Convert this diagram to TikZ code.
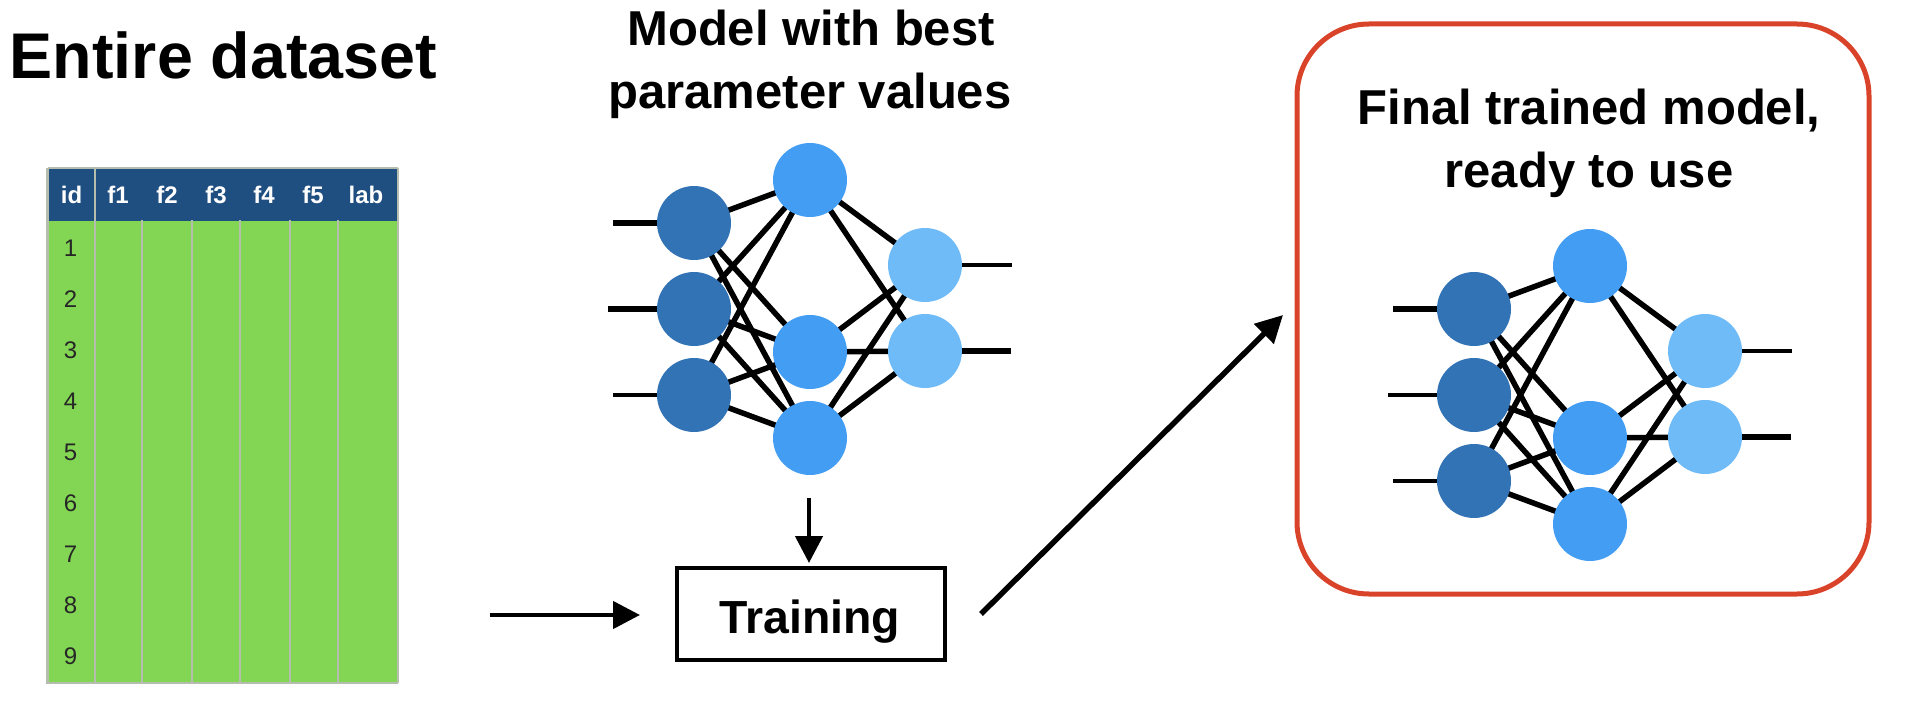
\documentclass[tikz,border=0pt]{standalone}
\usepackage{fontspec}
\setmainfont{Liberation Sans}
\usetikzlibrary{arrows.meta,backgrounds}
\definecolor{hdr}{HTML}{1F4E80}
\definecolor{grn}{HTML}{82D653}
\definecolor{gln}{HTML}{B4BDAE}
\definecolor{nA}{HTML}{3273B5}
\definecolor{nB}{HTML}{439DF3}
\definecolor{nC}{HTML}{6FBBF8}
\definecolor{redb}{HTML}{D8432A}
\tikzset{
  x=1pt,y=-1pt,
  neuron/.style={circle,minimum size=74pt,inner sep=0pt,fill=#1},
  edge/.style={line width=5.5pt,black},
  stub/.style={black,line width=#1},
  title/.style={font=\fontsize{49}{49}\selectfont\bfseries,anchor=center,inner sep=0pt},
  hdrtxt/.style={font=\fontsize{24}{24}\selectfont\bfseries,text=white,inner sep=0pt},
  rowtxt/.style={font=\fontsize{24}{24}\selectfont,text=black!85,inner sep=0pt},
  arrow/.style={line width=#1,-{Triangle[length=27pt,width=27pt]}},
}
\newcommand{\mynet}[4]{%
  \begin{scope}[shift={(#1,#2)}]
    \node[neuron=nA] (#3i1) at (694,223) {};
    \node[neuron=nA] (#3i2) at (694,309) {};
    \node[neuron=nA] (#3i3) at (694,395) {};
    \node[neuron=nB] (#3m1) at (810,180) {};
    \node[neuron=nB] (#3m2) at (810,352) {};
    \node[neuron=nB] (#3m3) at (810,438) {};
    \node[neuron=nC] (#3o1) at (925,265) {};
    \node[neuron=nC] (#3o2) at (925,351) {};
    \coordinate (#3a1) at (613,223);
    \coordinate (#3a2) at (608,309);
    \coordinate (#3a3) at (613,395);
    \coordinate (#3b1) at (1012,265);
    \coordinate (#3b2) at (1011,351);
    \begin{scope}[on background layer]
      \foreach \i in {1,2,3}{\foreach \m in {1,2,3}{\draw[edge] (#3i\i.center) -- (#3m\m.center);}}
      \foreach \m in {1,2,3}{\foreach \o in {1,2}{\draw[edge] (#3m\m.center) -- (#3o\o.center);}}
      \draw[stub=6pt] (#3a1) -- (#3i1.center);
      \draw[stub=#4] (#3a2) -- (#3i2.center);
      \draw[stub=4pt] (#3a3) -- (#3i3.center);
      \draw[stub=3.5pt] (#3b1) -- (#3o1.center);
      \draw[stub=5.5pt] (#3b2) -- (#3o2.center);
    \end{scope}
  \end{scope}}
\begin{document}
\begin{tikzpicture}
\useasboundingbox (0,0) rectangle (1914,714);
% table
\fill[grn] (47,168) rectangle (398,683);
\fill[hdr] (47,168) rectangle (398,221);
\draw[gln,line width=2.5pt] (47.5,168) -- (398,168);
\draw[gln,line width=2.5pt] (47.5,168) -- (47.5,683) -- (398,683);
\draw[gln,line width=2.5pt] (95,168) -- (95,683);
\foreach \x in {142,192,240,290,338}{\draw[gln,line width=2pt] (\x,220) -- (\x,683);}
\draw[gln,line width=1.5pt] (398,168) -- (398,683);
\node[hdrtxt] (hid) at (71.5,195) {id};
\node[hdrtxt] (h1) at (118,195) {f1};
\node[hdrtxt] (h2) at (167,195) {f2};
\node[hdrtxt] (h3) at (216,195) {f3};
\node[hdrtxt] (h4) at (264,195) {f4};
\node[hdrtxt] (h5) at (313,195) {f5};
\node[hdrtxt] (hl) at (366,195) {lab};
\foreach \r in {1,...,9}{\node[rowtxt] (r\r) at (70.5,{248.5+51*(\r-1)}) {\r};}
% titles
\node[font=\fontsize{64.6}{64.6}\selectfont\bfseries,inner sep=0pt] (t0) at (223.5,55) {Entire dataset};
\node[title] (t1) at (811,28) {Model with best};
\node[title] (t2) at (810,96) {parameter values};
% left network
\mynet{0}{0}{L}{6pt}
% training
\node[draw,line width=4pt,minimum width=268pt,minimum height=92pt,inner sep=0pt] (train) at (810.5,614) {};
\node[font=\fontsize{46.4}{46.4}\selectfont\bfseries,inner sep=0pt] (trainlabel) at (810,622) {Training};
\coordinate (src) at (490,615);
\coordinate (srcend) at (640,615);
\coordinate (top) at (809,498);
\coordinate (topend) at (809,563);
\coordinate (dst) at (1283,315);
\coordinate (dstart) at (981,614);
\draw[arrow=4.5pt] (src) -- (srcend);
\draw[arrow=4.5pt] (top) -- (topend);
\draw[arrow=5.5pt] (dstart) -- (dst);
% final box
\node[draw=redb,line width=5pt,rounded corners=72pt,minimum width=572pt,minimum height=570pt,inner sep=0pt] (final) at (1583,309) {};
\node[title] (t3) at (1589,111) {Final trained model,};
\node[title] (t4) at (1589,175) {ready to use};
\mynet{780}{86}{R}{4.5pt}
\end{tikzpicture}
\end{document}
